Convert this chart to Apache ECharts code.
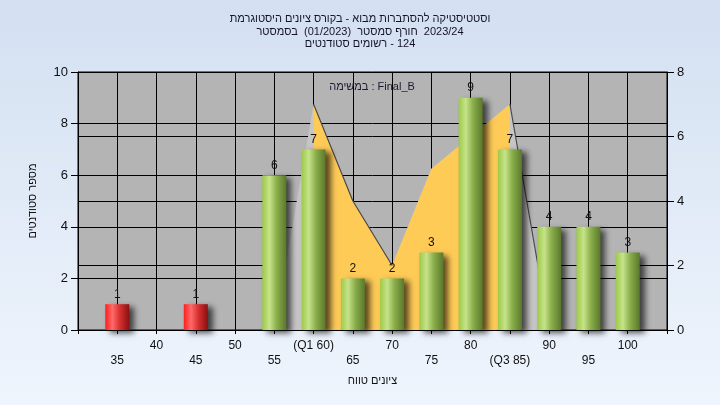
<!DOCTYPE html>
<html>
<head>
<meta charset="utf-8">
<script src="https://cdn.jsdelivr.net/npm/echarts@6/dist/echarts.min.js"></script>
<style>
html,body{margin:0;padding:0;}
#chart{width:720px;height:405px;}
</style>
</head>
<body>
<div id="chart"></div>
<script>
var LRM = String.fromCharCode(0x200E);
// ---- data ----
var categories = [35, 40, 45, 50, 55, 60, 65, 70, 75, 80, 85, 90, 95, 100];
var tickLabels = ['35', '40', '45', '50', '55', '(Q1 60)', '65', '70', '75', '80', '(Q3 85)', '90', '95', '100'];
var studentCounts = [1, 0, 1, 0, 6, 7, 2, 2, 3, 9, 7, 4, 4, 3];
var curveX = [55, 60, 65, 70, 75, 80, 85, 90];
var curveValues = [0, 7, 4, 2, 5, 6, 7, 0];
var q1 = 60, q3 = 85;
var titleLines = [
  'היסטוגרמת ציונים בקורס - מבוא להסתברות וסטטיסטיקה',
  'בסמסטר  (01/2023)  סמסטר חורף  2023/24',
  'סטודנטים רשומים - 124'
];
var legendText = 'במשימה : Final_B';
var xAxisName = 'טווח ציונים';
var yAxisName = 'מספר סטודנטים';
var failLimit = 55;

// keep words in the order they are shown (left to right)
function visualOrder(s) { return s.replace(/([\u0590-\u05FF]+)/g, '$1' + LRM); }

// ---- build ----
var barData = categories.map(function (c, i) { return [c, studentCounts[i]]; });
var curveAll = curveX.map(function (x, i) { return [x, curveValues[i]]; });
var curveMid = curveAll.filter(function (p) { return p[0] >= q1 && p[0] <= q3; });
var edgeData = [];
for (var i = 0; i < curveAll.length; i++) {
  var p = curveAll[i];
  var prevDesc = i > 0 && curveAll[i - 1][1] > p[1];
  var nextDesc = i < curveAll.length - 1 && curveAll[i + 1][1] < p[1];
  if (prevDesc || nextDesc) edgeData.push(p); else edgeData.push([p[0], '-']);
}

var font = '"Liberation Sans", Arial, sans-serif';
var greenGrad = new echarts.graphic.LinearGradient(0, 0, 1, 0, [
  {offset: 0, color: '#9DCA48'}, {offset: 0.3, color: '#C6E38A'},
  {offset: 0.6, color: '#8AAE4A'}, {offset: 1, color: '#5A782C'}]);
var redGrad = new echarts.graphic.LinearGradient(0, 0, 1, 0, [
  {offset: 0, color: '#FF1E1E'}, {offset: 0.3, color: '#FF6A6A'},
  {offset: 0.6, color: '#D83030'}, {offset: 1, color: '#881010'}]);

var chart = echarts.init(document.getElementById('chart'), null, {renderer: 'canvas'});
chart.setOption({
  animation: false,
  backgroundColor: new echarts.graphic.LinearGradient(0, 0, 0, 1, [
    {offset: 0, color: '#D3E0F1'}, {offset: 1, color: '#EFF5FD'}]),
  textStyle: {fontFamily: font},
  title: {
    text: titleLines.map(visualOrder).join('\n'),
    left: 'center', top: 8,
    textStyle: {fontSize: 11, fontWeight: 'normal', color: '#141428', lineHeight: 12.5, fontFamily: font}
  },
  graphic: [{
    type: 'text', x: 372, y: 81, z: 10,
    style: {text: legendText, fontSize: 11, fill: '#1a1a30', fontFamily: font, textAlign: 'center'}
  }],
  grid: {left: 78, right: 53, top: 72, bottom: 75, show: true,
         backgroundColor: '#B4B4B4', borderColor: '#000', borderWidth: 1},
  xAxis: {
    type: 'value', min: 30, max: 105, interval: 5,
    name: visualOrder(xAxisName), nameLocation: 'middle', nameGap: 45,
    nameTextStyle: {fontSize: 11, color: '#111', fontFamily: font},
    axisLine: {lineStyle: {color: '#000'}},
    axisTick: {length: 4, lineStyle: {color: '#000'}},
    splitLine: {show: true, lineStyle: {color: '#000', width: 1}},
    axisLabel: {
      margin: 8, fontSize: 12, color: '#111', lineHeight: 15, fontFamily: font,
      formatter: function (v) {
        var idx = categories.indexOf(v);
        if (idx < 0) return '';
        return (idx % 2 === 0) ? '\n' + tickLabels[idx] : tickLabels[idx] + '\n';
      }
    }
  },
  yAxis: [{
    type: 'value', min: 0, max: 10, interval: 2, position: 'left',
    name: yAxisName, nameLocation: 'middle', nameGap: 40,
    nameTextStyle: {fontSize: 11, color: '#111', fontFamily: font},
    axisLine: {show: true, lineStyle: {color: '#000'}},
    axisTick: {show: true, length: 7, lineStyle: {color: '#000'}},
    axisLabel: {fontSize: 13, color: '#111', margin: 10, fontFamily: font},
    splitLine: {show: true, lineStyle: {color: '#000', width: 1}}
  }, {
    type: 'value', min: 0, max: 8, interval: 2, position: 'right',
    axisLine: {show: true, lineStyle: {color: '#000'}},
    axisTick: {show: true, length: 7, lineStyle: {color: '#000'}},
    axisLabel: {fontSize: 13, color: '#111', margin: 10, fontFamily: font},
    splitLine: {show: true, lineStyle: {color: '#000', width: 1}}
  }],
  series: [{
    type: 'line', yAxisIndex: 1, data: curveAll, symbol: 'none', z: 2,
    lineStyle: {width: 0, opacity: 0},
    areaStyle: {color: '#C6C6C6', opacity: 1}
  }, {
    type: 'line', yAxisIndex: 1, data: curveMid, symbol: 'none', z: 3,
    lineStyle: {width: 0, opacity: 0},
    areaStyle: {color: '#FFCB57', opacity: 1}
  }, {
    type: 'line', yAxisIndex: 1, data: edgeData, symbol: 'none', z: 4,
    connectNulls: false,
    lineStyle: {width: 1.2, color: '#4A4A4A'}
  }, {
    type: 'bar', yAxisIndex: 0, data: barData, barWidth: 24, z: 5,
    itemStyle: {
      color: function (p) { return p.data[0] < failLimit ? redGrad : greenGrad; },
      shadowBlur: 6, shadowOffsetX: 5, shadowOffsetY: 3, shadowColor: 'rgba(0,0,0,0.65)'
    },
    label: {
      show: true, position: 'top', distance: 4, fontSize: 12, color: '#111', fontFamily: font,
      formatter: function (p) { return p.data[1] > 0 ? String(p.data[1]) : ''; }
    }
  }]
});
</script>
</body>
</html>
